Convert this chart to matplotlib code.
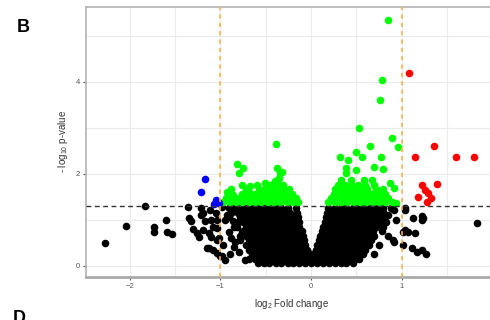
import matplotlib
matplotlib.use("Agg")
import matplotlib.pyplot as plt
from matplotlib.ticker import MultipleLocator

plt.rcParams['font.family'] = ['Liberation Sans', 'DejaVu Sans']
plt.rcParams['mathtext.default'] = 'regular'

# significant, log2FC > 1
red_x = [1.08, 1.36, 1.15, 1.60, 1.80, 1.22, 1.39, 1.26, 1.18, 1.29, 1.28, 1.32]
red_y = [4.19, 2.59, 2.36, 2.36, 2.36, 1.75, 1.78, 1.65, 1.50, 1.57, 1.39, 1.47]

# significant, log2FC < -1
blue_x = [-1.17, -1.22, -1.05, -1.02, -1.07]
blue_y = [1.89, 1.61, 1.43, 1.37, 1.33]

# significant, |log2FC| < 1 (scattered upper points)
green_x = [0.845, 0.78, 0.757, 0.53, -0.386, 0.89, 0.65, 0.96, 0.50, 0.32, 0.41,
           0.56, 0.77, 0.39, 0.50, 0.69, 0.80, 0.39, 0.67, 0.87, 0.92, 0.94,
           -0.82, -0.75, -0.80, -0.38, -0.32, -0.35, -0.76, -0.67, -0.51, -0.42,
           -0.69, -0.93, -0.86, -0.40, -0.34]
green_y = [5.33, 4.03, 3.60, 2.99, 2.65, 2.77, 2.60, 2.58, 2.46, 2.35, 2.30,
           2.36, 2.36, 2.12, 2.07, 2.15, 2.10, 2.01, 1.86, 1.79, 1.68, 1.36,
           2.20, 2.13, 2.01, 2.13, 2.04, 1.91, 1.75, 1.74, 1.80, 1.77,
           1.61, 1.61, 1.54, 1.83, 2.01]

# dense green band just above the threshold, row by row
green_row_y = [1.38, 1.47, 1.56, 1.66, 1.76, 1.86]
green_row_x = [
    [-0.97, -0.90, -0.83, -0.76, -0.69, -0.62, -0.55, -0.48, -0.41, -0.34, -0.27, -0.20, -0.14,
     0.19, 0.26, 0.33, 0.40, 0.47, 0.54, 0.61, 0.68, 0.75, 0.82, 0.89],
    [-0.94, -0.87, -0.80, -0.73, -0.66, -0.59, -0.52, -0.45, -0.38, -0.31, -0.24, -0.17,
     0.22, 0.29, 0.36, 0.43, 0.50, 0.57, 0.64, 0.71, 0.78, 0.85],
    [-0.90, -0.76, -0.69, -0.62, -0.55, -0.48, -0.41, -0.34, -0.27, -0.21,
     0.25, 0.32, 0.39, 0.46, 0.53, 0.60, 0.67, 0.74, 0.82],
    [-0.88, -0.72, -0.58, -0.51, -0.44, -0.37, -0.30, -0.24,
     0.27, 0.34, 0.41, 0.48, 0.55, 0.62, 0.72, 0.80],
    [-0.60, -0.46, -0.38, -0.31, 0.30, 0.37, 0.45, 0.52, 0.60, 0.70],
    [-0.36, 0.33, 0.44, 0.58],
]

# non-significant core (the V shape), row by row
black_row_y = [1.25, 1.15, 1.05, 0.95, 0.85, 0.75, 0.65, 0.55, 0.45, 0.35, 0.25, 0.15, 0.05]
black_row_x = [
    [-0.91, -0.85, -0.78, -0.72, -0.65, -0.59, -0.52, -0.46, -0.39, -0.33, -0.26, -0.17,
     0.19, 0.26, 0.33, 0.39, 0.46, 0.52, 0.59, 0.65, 0.72, 0.80],
    [-0.88, -0.81, -0.75, -0.68, -0.62, -0.55, -0.49, -0.42, -0.36, -0.29, -0.23, -0.16,
     0.18, 0.23, 0.29, 0.36, 0.42, 0.49, 0.55, 0.62, 0.68, 0.75],
    [-0.91, -0.78, -0.72, -0.65, -0.59, -0.52, -0.46, -0.39, -0.33, -0.26, -0.20, -0.14,
     0.16, 0.20, 0.26, 0.33, 0.39, 0.46, 0.52, 0.59, 0.65, 0.72, 0.78],
    [-0.81, -0.75, -0.68, -0.62, -0.55, -0.49, -0.42, -0.36, -0.29, -0.23, -0.16, -0.13,
     0.15, 0.23, 0.29, 0.36, 0.42, 0.49, 0.55, 0.62, 0.68, 0.75],
    [-0.85, -0.72, -0.65, -0.59, -0.52, -0.46, -0.39, -0.33, -0.26, -0.20, -0.13,
     0.13, 0.20, 0.26, 0.33, 0.39, 0.46, 0.52, 0.59, 0.65, 0.72],
    [-0.75, -0.68, -0.62, -0.55, -0.49, -0.42, -0.36, -0.29, -0.23, -0.16, -0.10,
     0.12, 0.16, 0.23, 0.29, 0.36, 0.42, 0.49, 0.55, 0.62, 0.68],
    [-0.78, -0.72, -0.65, -0.59, -0.52, -0.46, -0.39, -0.33, -0.26, -0.20, -0.13, -0.09,
     0.10, 0.13, 0.20, 0.26, 0.33, 0.39, 0.46, 0.52, 0.59, 0.65, 0.70],
    [-0.68, -0.62, -0.55, -0.49, -0.42, -0.36, -0.29, -0.23, -0.16, -0.10, -0.08,
     0.09, 0.10, 0.16, 0.23, 0.29, 0.36, 0.42, 0.49, 0.55, 0.62, 0.66],
    [-0.72, -0.65, -0.59, -0.52, -0.46, -0.39, -0.33, -0.26, -0.20, -0.13, -0.07,
     0.07, 0.13, 0.20, 0.26, 0.33, 0.39, 0.46, 0.52, 0.59, 0.64],
    [-0.68, -0.62, -0.55, -0.49, -0.42, -0.36, -0.29, -0.23, -0.16, -0.10, -0.05,
     0.05, 0.10, 0.16, 0.23, 0.29, 0.36, 0.42, 0.49, 0.55, 0.60],
    [-0.65, -0.59, -0.52, -0.46, -0.39, -0.33, -0.26, -0.20, -0.13, -0.07, 0.00,
     0.07, 0.13, 0.20, 0.26, 0.33, 0.39, 0.46, 0.52, 0.57],
    [-0.68, -0.62, -0.55, -0.49, -0.42, -0.36, -0.29, -0.23, -0.16, -0.10, -0.03,
     0.03, 0.10, 0.16, 0.23, 0.29, 0.36, 0.42, 0.49, 0.53],
    [-0.59, -0.52, -0.46, -0.39, -0.33, -0.26, -0.20, -0.13, -0.07, 0.00,
     0.07, 0.13, 0.20, 0.26, 0.33, 0.39, 0.46],
]

# non-significant scattered points (tails)
black_x = [-2.28, -2.04, -1.83, -1.73, -1.73, -1.60, -1.59, -1.54, -1.36, -1.35, -1.33,
           -1.30, -1.26, -1.21, -1.17, -1.19, -1.13, -1.13, -1.08, -1.04, -1.00, -0.95,
           -1.12, -1.22, -1.04, -1.08, -1.04, -1.19, -1.24, -1.15, -1.10, -1.10, -1.04,
           -1.02, -0.98, -0.97, -0.93, -0.91, -0.86, -0.84, -0.80, -0.76, -0.73, -0.71,
           -0.88, -0.85, -0.90, -0.78, -0.82, -0.95, -0.98, -1.05,
           0.94, 0.92, 1.04, 1.04, 1.07, 1.01, 1.13, 1.23, 1.23, 1.04, 1.02, 1.15, 0.91,
           1.11, 1.17, 1.27, 1.83, 1.24, 1.22, 0.80, 0.85, 0.80, 0.78, 0.88, 0.92, 0.83,
           0.75, 0.70, 0.85]
black_y = [0.50, 0.87, 1.30, 0.83, 0.73, 0.99, 0.73, 0.68, 1.28, 1.03, 0.96,
           0.80, 0.70, 1.10, 0.96, 0.78, 0.70, 0.38, 0.34, 0.27, 0.20, 0.12,
           1.21, 1.25, 0.56, 0.85, 0.99, 1.14, 0.63, 0.38, 0.99, 0.63, 0.81,
           0.60, 0.20, 0.45, 1.10, 0.74, 0.96, 0.52, 0.30, 0.74, 0.12, 1.21,
           0.60, 0.40, 0.25, 0.55, 0.85, 1.00, 1.28, 1.15,
           0.99, 0.52, 1.25, 0.78, 0.74, 0.45, 1.03, 1.07, 0.99, 1.21, 0.74, 0.70, 0.56,
           0.38, 0.30, 0.25, 0.93, 1.03, 0.33, 1.17, 1.10, 0.85, 0.76, 1.25, 1.22, 0.95,
           0.45, 0.25, 0.65]

fc_cut = 1.0
p_cut = 1.3


def flatten(rows_y, rows_x):
    xs, ys = [], []
    for y, row in zip(rows_y, rows_x):
        xs += row
        ys += [y] * len(row)
    return xs, ys


bx, by = flatten(black_row_y, black_row_x)
gx, gy = flatten(green_row_y, green_row_x)

fig = plt.figure(figsize=(4.9, 3.2), dpi=100)
ax = fig.add_axes([86 / 490, 43.3 / 320, 410.7 / 490, 269.7 / 320])

pt = 30
ax.scatter(black_x + bx, black_y + by, s=pt, c='black', linewidths=0, zorder=3)
ax.scatter(green_x + gx, green_y + gy, s=pt, c='#00ff00', linewidths=0, zorder=3)
ax.scatter(red_x, red_y, s=pt, c='#ff0000', linewidths=0, zorder=3)
ax.scatter(blue_x, blue_y, s=pt, c='#0000ff', linewidths=0, zorder=3)

ax.axhline(p_cut, color='#333333', lw=1.0, ls=(0, (3.5, 2.5)), zorder=4)
for v in (-fc_cut, fc_cut):
    ax.axvline(v, color='#f7b448', lw=1.2, ls=(0, (2.5, 2.5)), zorder=4)

ax.set_xlim(-2.485, 2.05)
ax.set_ylim(-0.24, 5.62)
ax.set_xticks([-2, -1, 0, 1])
ax.set_yticks([0, 2, 4])
ax.xaxis.set_minor_locator(MultipleLocator(0.5))
ax.yaxis.set_minor_locator(MultipleLocator(1))
ax.grid(True, which='both', color='#ebebeb', lw=0.8, zorder=0)
ax.set_axisbelow(True)

ax.tick_params(which='major', length=2.5, width=0.8, color='#555555',
               labelsize=5.5, labelcolor='#555555', pad=2)
ax.tick_params(which='minor', length=0)

for side in ('left', 'top', 'right'):
    ax.spines[side].set_color('#b3b3b3')
    ax.spines[side].set_linewidth(1.2)
ax.spines['bottom'].set_color('#aaaaaa')
ax.spines['bottom'].set_linewidth(2.0)

ax.set_xlabel('log$_2$ Fold change', fontsize=7, color='#333333')
ax.set_ylabel('- log$_{10}$ p-value', fontsize=7, color='#333333')
ax.xaxis.set_label_coords(0.5, -0.074)
ax.yaxis.set_label_coords(-0.040, 0.5)

fig.text(17 / 490, 1 - 19 / 320, 'B', fontsize=13, fontweight='bold', va='top')
fig.text(13 / 490, 1 - 310 / 320, 'D', fontsize=13, fontweight='bold', va='top')

fig.savefig('out.png', dpi=100)
